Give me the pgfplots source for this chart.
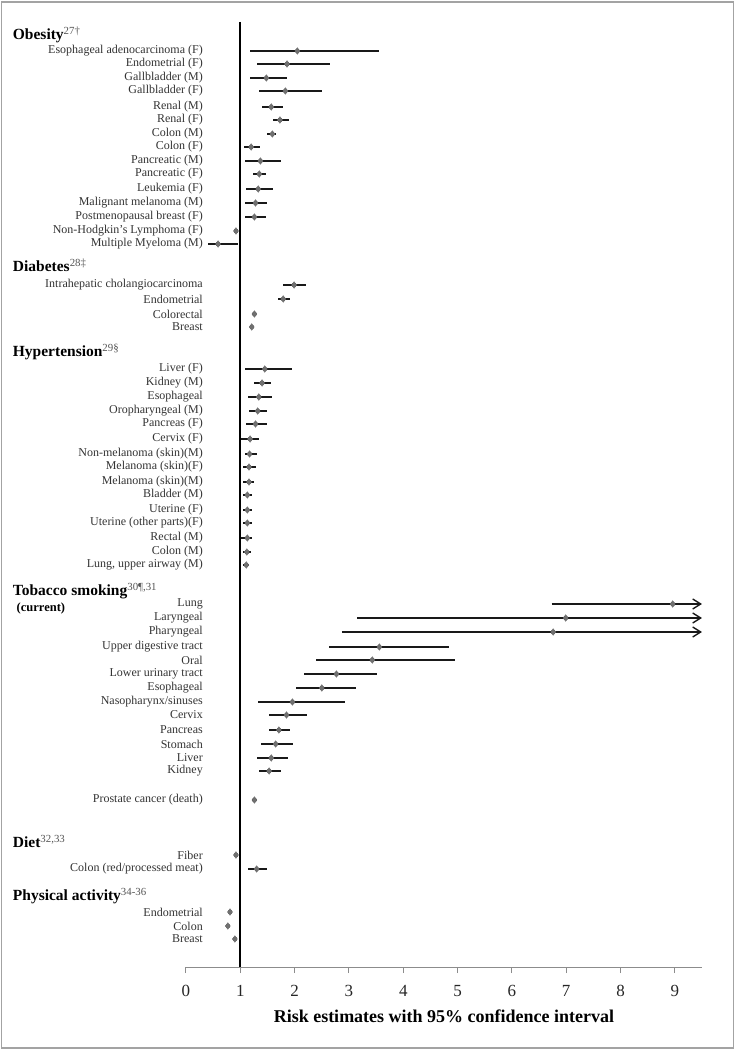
\documentclass[border=0pt]{standalone}
\usepackage{fontspec}
\setmainfont{Liberation Serif}
\usepackage{pgfplots}
\pgfplotsset{compat=1.18}
\usepackage{pgfplotstable}
\usetikzlibrary{arrows.meta}

\definecolor{mk}{HTML}{707070}
\definecolor{labc}{HTML}{333333}
\definecolor{supc}{HTML}{555555}
\definecolor{axc}{HTML}{8C8C8C}

% y = minus the row position (one unit = one pixel of the original figure)
\pgfplotstableread{
y     x     lo    hi
-51   2.05  1.18  3.55
-64   1.86  1.31  2.65
-78   1.48  1.18  1.86
-91   1.83  1.34  2.50
-107  1.57  1.40  1.79
-120  1.73  1.60  1.89
-134  1.59  1.49  1.66
-147  1.20  1.07  1.36
-161  1.37  1.09  1.75
-174  1.35  1.24  1.48
-189  1.33  1.11  1.60
-203  1.28  1.09  1.49
-217  1.26  1.09  1.48
-231  0.92  0.92  0.92
-244  0.59  0.40  0.95
-285  1.99  1.79  2.21
-299  1.79  1.69  1.92
-314  1.26  1.26  1.26
-327  1.21  1.21  1.21
-369  1.45  1.08  1.95
-383  1.40  1.25  1.57
-397  1.34  1.15  1.59
-411  1.32  1.16  1.49
-424  1.28  1.11  1.49
-439  1.18  1.02  1.35
-454  1.17  1.09  1.31
-467  1.16  1.05  1.29
-482  1.16  1.05  1.26
-495  1.13  1.05  1.22
-510  1.13  1.05  1.22
-523  1.13  1.05  1.22
-538  1.13  1.02  1.22
-552  1.12  1.05  1.19
-565  1.11  1.05  1.16
-604  8.96  8.96  8.96
-618  6.99  6.99  6.99
-632  6.76  6.76  6.76
-647  3.56  2.64  4.84
-660  3.43  2.39  4.95
-674  2.77  2.18  3.52
-688  2.50  2.02  3.13
-702  1.96  1.32  2.93
-715  1.85  1.52  2.23
-730  1.71  1.52  1.92
-744  1.65  1.39  1.97
-758  1.57  1.31  1.87
-771  1.53  1.34  1.74
-800  1.26  1.21  1.31
-855  0.92  0.92  0.92
-869  1.30  1.15  1.49
-912  0.81  0.81  0.81
-926  0.77  0.77  0.77
-939  0.90  0.90  0.90
}\risk

% open-ended intervals (tobacco: lung, laryngeal, pharyngeal)
\pgfplotstableread{
y     lo    hi
-604  6.73  9.5
-618  3.15  9.5
-632  2.87  9.5
}\openci

\begin{document}
\begin{tikzpicture}
\path[use as bounding box] (0pt,0pt) rectangle (735pt,1050pt);
\draw[axc!80, line width=1.5pt] (1.5pt,2pt) rectangle (733.5pt,1048pt);
\begin{axis}[
    at={(186pt,83pt)}, anchor=south west,
    scale only axis,
    width=516pt, height=945pt,
    xmin=0, xmax=9.5,
    ymin=-967, ymax=-22,
    clip=false,
    axis x line*=bottom,
    axis y line*=left,
    y axis line style={draw=none},
    x axis line style={axc, line width=1pt},
    xtick={0,1,...,9},
    xtick align=outside,
    x tick style={axc, line width=1pt},
    major tick length=6pt,
    xticklabel style={font=\fontsize{17}{17}\selectfont, text=black!85, yshift=-9pt},
    /pgf/number format/assume math mode=true,
    xlabel={\textbf{Risk estimates with 95\% confidence interval}},
    xlabel style={font=\fontsize{18}{18}\selectfont, yshift=-6pt},
    ytick={-51,-64,-78,-91,-107,-120,-134,-147,-161,-174,-189,-203,-217,-231,-244,
           -285,-299,-314,-327,
           -369,-383,-397,-411,-424,-439,-454,-467,-482,-495,-510,-523,-538,-552,-565,
           -604,-618,-632,-647,-660,-674,-688,-702,-715,-730,-744,-758,-771,-800,
           -855,-869,-912,-926,-939},
    yticklabels={Esophageal adenocarcinoma (F),Endometrial (F),Gallbladder (M),Gallbladder (F),
      Renal (M),Renal (F),Colon (M),Colon (F),Pancreatic (M),Pancreatic (F),Leukemia (F),
      Malignant melanoma (M),Postmenopausal breast (F),Non-Hodgkin's Lymphoma (F),Multiple Myeloma (M),
      Intrahepatic cholangiocarcinoma,Endometrial,Colorectal,Breast,
      Liver (F),Kidney (M),Esophageal,Oropharyngeal (M),Pancreas (F),Cervix (F),
      Non-melanoma (skin)(M),Melanoma (skin)(F),Melanoma (skin)(M),Bladder (M),Uterine (F),
      Uterine (other parts)(F),Rectal (M),Colon (M),{Lung, upper airway (M)},
      Lung,Laryngeal,Pharyngeal,Upper digestive tract,Oral,Lower urinary tract,Esophageal,
      Nasopharynx/sinuses,Cervix,Pancreas,Stomach,Liver,Kidney,Prostate cancer (death),
      Fiber,Colon (red/processed meat),Endometrial,Colon,Breast},
    y tick style={draw=none},
    yticklabel style={font=\fontsize{12}{12}\selectfont, text=labc, inner sep=0pt, anchor=east, xshift=17pt},
]
% reference line at 1
\addplot[black, line width=2pt, forget plot] coordinates {(1,-22) (1,-967)};

% confidence intervals
\addplot[only marks, mark=none, forget plot,
    error bars/.cd, x dir=both, x explicit, error mark=none,
    error bar style={line width=1.7pt, black!90}]
  table[x=x, y=y,
        x error plus expr=\thisrow{hi}-\thisrow{x},
        x error minus expr=\thisrow{x}-\thisrow{lo}] {\risk};

% intervals running off the scale
\pgfplotsinvokeforeach{0,1,2}{
  \pgfplotstablegetelem{#1}{y}\of\openci \let\yy\pgfplotsretval
  \pgfplotstablegetelem{#1}{lo}\of\openci \let\lo\pgfplotsretval
  \pgfplotstablegetelem{#1}{hi}\of\openci \let\hi\pgfplotsretval
  \edef\tmp{\noexpand\addplot[black!90, line width=1.4pt, forget plot,
      -{Straight Barb[length=8pt, width=10pt, line width=1.4pt]}]
      coordinates {(\lo,\yy) (\hi,\yy)};}
  \tmp
}

% point estimates
\addplot[only marks, mark=diamond*, mark size=3.3pt, mark options={fill=mk, draw=mk}]
  table[x=x, y=y] {\risk};

% group headings
\begin{scope}[every node/.style={anchor=base west, inner sep=0pt, font=\fontsize{15.5}{15.5}\selectfont\bfseries}]
\node at (axis cs:-3.19,-39.5) {Obesity{\mdseries\color{supc}\textsuperscript{27†}}};
\node at (axis cs:-3.19,-272) {Diabetes{\mdseries\color{supc}\textsuperscript{28‡}}};
\node at (axis cs:-3.19,-357) {Hypertension{\mdseries\color{supc}\textsuperscript{29§}}};
\node at (axis cs:-3.19,-595.5) {Tobacco smoking{\mdseries\color{supc}\textsuperscript{30¶,31}}};
\node[font=\fontsize{12.5}{12.5}\selectfont\bfseries] at (axis cs:-3.12,-611.5) {(current)};
\node at (axis cs:-3.19,-848) {Diet{\mdseries\color{supc}\textsuperscript{32,33}}};
\node at (axis cs:-3.19,-900.5) {Physical activity{\mdseries\color{supc}\textsuperscript{34-36}}};
\end{scope}
\end{axis}
\end{tikzpicture}
\end{document}
